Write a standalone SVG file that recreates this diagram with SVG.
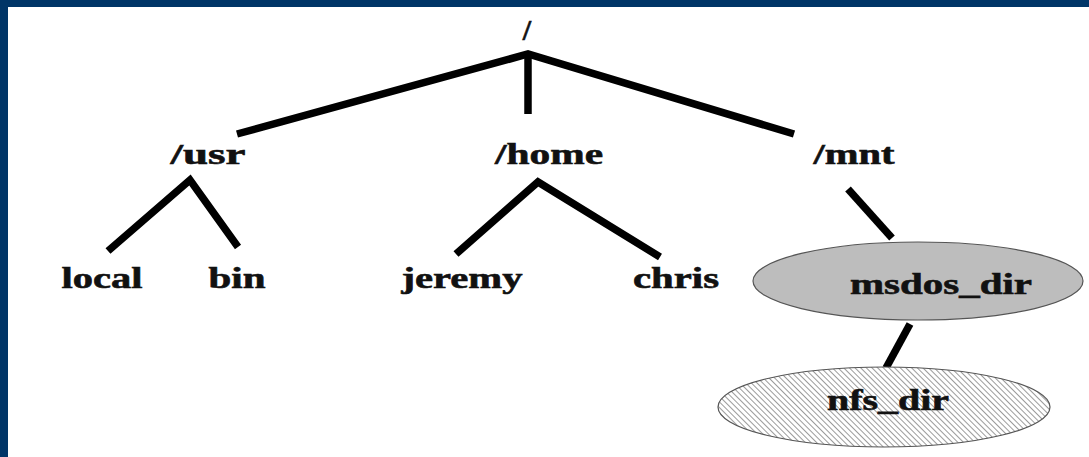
<svg xmlns="http://www.w3.org/2000/svg" width="1089" height="457" viewBox="0 0 1089 457">
<style>
.lbl{font-family:"Liberation Serif","Times New Roman",serif;font-weight:bold;font-size:30px;fill:#111;stroke:#111;stroke-width:0.6;text-anchor:middle}
.edge{fill:none;stroke:#000;stroke-width:7.5;stroke-linejoin:miter;stroke-linecap:butt}
.ell{stroke:#555;stroke-width:1.2}
</style>
<defs>
<pattern id="hatch" width="4" height="4" patternUnits="userSpaceOnUse" patternTransform="rotate(-45)">
<rect width="4" height="4" fill="#fff"/>
<line x1="0" y1="0" x2="0" y2="4" stroke="#7a7a7a" stroke-width="1.5"/>
</pattern>
</defs>
<rect x="0" y="0" width="1089" height="457" fill="#fff"/>
<rect x="0" y="0" width="1089" height="7" fill="#003567"/>
<rect x="0" y="0" width="8" height="457" fill="#003567"/>
<g id="connectors">
<polyline class="edge" points="237,134 528,54 794,134"/>
<line class="edge" x1="528" y1="54" x2="528" y2="114"/>
<polyline class="edge" points="108,251 190,180 238,247"/>
<polyline class="edge" points="456,254 538,182 660,257"/>
<line class="edge" x1="848" y1="189" x2="892" y2="238"/>
<line class="edge" x1="910" y1="324" x2="886" y2="368"/>
</g>
<g id="root"><text class="lbl" x="527" y="40">/</text></g>
<g id="usr"><text class="lbl" x="208" y="164" textLength="75" lengthAdjust="spacingAndGlyphs">/usr</text></g>
<g id="home"><text class="lbl" x="549" y="164" textLength="108" lengthAdjust="spacingAndGlyphs">/home</text></g>
<g id="mnt"><text class="lbl" x="854" y="164" textLength="81" lengthAdjust="spacingAndGlyphs">/mnt</text></g>
<g id="local"><text class="lbl" x="102" y="288" textLength="81" lengthAdjust="spacingAndGlyphs">local</text></g>
<g id="bin"><text class="lbl" x="237" y="288" textLength="57" lengthAdjust="spacingAndGlyphs">bin</text></g>
<g id="jeremy"><text class="lbl" x="462" y="288" textLength="121" lengthAdjust="spacingAndGlyphs">jeremy</text></g>
<g id="chris"><text class="lbl" x="676" y="288" textLength="86" lengthAdjust="spacingAndGlyphs">chris</text></g>
<g id="msdos_dir">
<ellipse class="ell" cx="918" cy="281" rx="165" ry="39" fill="#bdbdbd"/>
<text class="lbl" x="941" y="294" textLength="182" lengthAdjust="spacingAndGlyphs">msdos_dir</text>
</g>
<g id="nfs_dir">
<ellipse class="ell" cx="884" cy="407" rx="166" ry="40" fill="url(#hatch)"/>
<text class="lbl" x="888" y="410" textLength="122" lengthAdjust="spacingAndGlyphs">nfs_dir</text>
</g>
</svg>
